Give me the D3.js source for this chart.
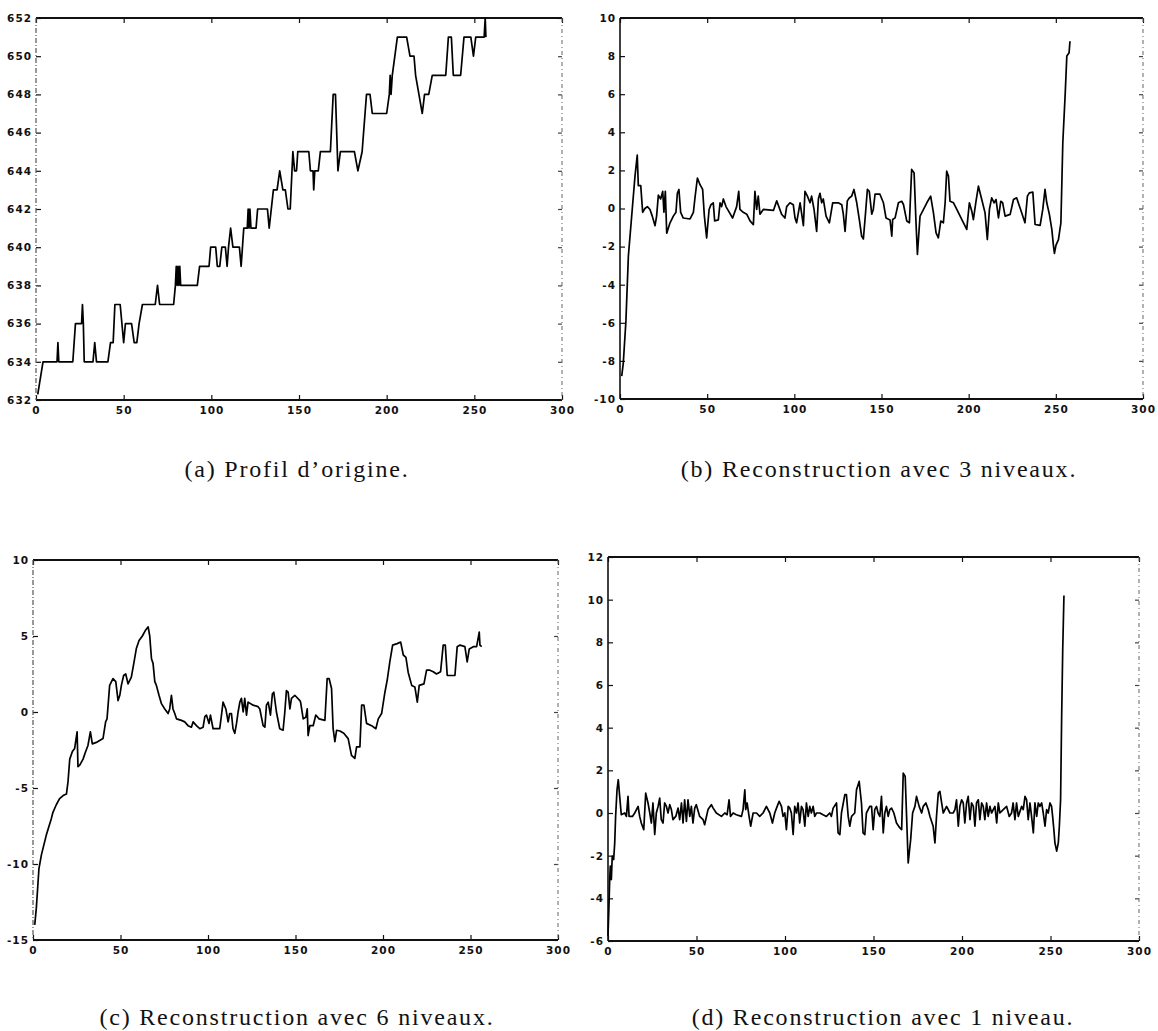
<!DOCTYPE html>
<html>
<head>
<meta charset="utf-8">
<script src="https://cdn.jsdelivr.net/npm/d3@7/dist/d3.min.js"></script>
<style>
  html, body { margin: 0; padding: 0; background: #fff; }
  svg { display: block; }
  .tick text { font-family: "DejaVu Sans", sans-serif; font-weight: bold; font-size: 10.5px; letter-spacing: 1px; fill: #111; }
  .caption { font-family: "Liberation Serif", "DejaVu Serif", serif; font-size: 24px; letter-spacing: 1.8px; fill: #111; }
</style>
</head>
<body>
<svg id="fig" width="1158" height="1031"></svg>
<script>
// Shared x ticks (sample index)
const xTicks = [0, 50, 100, 150, 200, 250, 300];

// (a) original profile
const profilX = [1, 4, 12, 12.5, 13, 21, 22.5, 26, 26.5, 27, 27.5, 32.5, 33.5, 34.5, 41, 42.5, 44, 45, 48, 50,
  51, 54.5, 56, 57.5, 58.8, 60.7, 68, 69.3, 70.5, 78.5, 79.5, 80, 80.5, 81, 81.5, 82, 82.5, 92, 93.3, 98.7,
  99.6, 102.5, 103.4, 104.8, 106, 108, 109, 109.8, 111, 112.3, 116, 117, 118.5, 120.5, 121, 121.5, 122, 122.6, 125.5, 126.4,
  132, 133, 135.4, 137.5, 139, 140.8, 142.2, 143.7, 145, 146.5, 147.5, 148.6, 149.3, 155.6, 156.5, 158, 158.4, 159, 161, 162.2,
  167.9, 169.5, 170.8, 172.2, 173.6, 181.6, 183.6, 186, 188.5, 190.5, 191.8, 200, 201.5, 202, 202.5, 203.2, 206.1, 211.4, 213.3, 215.6,
  216.5, 218.4, 220.3, 221.6, 224, 226, 233.7, 235.2, 236.9, 238, 242.2, 244.1, 248, 249.5, 250.8, 255.6, 256.2, 256.6];
const profilY = [632.3, 634, 634, 635, 634, 634, 636, 636, 637, 636, 634, 634, 635, 634, 634, 635, 635, 637, 637, 635,
  636, 636, 635, 635, 636, 637, 637, 638, 637, 637, 638, 639, 638, 639, 638, 639, 638, 638, 639, 639,
  640, 640, 639, 639, 640, 640, 639, 640, 641, 640, 640, 639, 641, 641, 642, 641, 642, 641, 641, 642,
  642, 641, 643, 643, 644, 643, 643, 642, 642, 645, 644, 644, 645, 645, 644, 644, 643, 644, 644, 645,
  645, 648, 648, 644, 645, 645, 644, 645, 648, 648, 647, 647, 648, 649, 648, 649, 651, 651, 650, 650,
  649, 648, 647, 648, 648, 649, 649, 651, 651, 649, 649, 651, 651, 650, 651, 651, 652, 651];
const profilTicks = [632, 634, 636, 638, 640, 642, 644, 646, 648, 650, 652];

// (b) reconstruction, 3 levels
const niv3X = [1, 1.9, 3.4, 4.8, 6.7, 8.6, 9.9, 10.5, 11.9, 13, 14.3, 15.7, 17.2, 18.5, 20.1, 21, 22, 23.3, 24.5, 25.2,
  26, 26.8, 28.7, 30.6, 32.1, 32.9, 33.8, 34.8, 36.3, 40.2, 42.1, 43, 44.4, 45.9, 47.4, 48.4, 49.7, 51.1, 52.2, 53.5,
  54.3, 56.4, 57.4, 58.3, 59.3, 60.8, 62.7, 64.6, 66.9, 68.1, 68.8, 70.7, 72.7, 74.6, 76.5, 77.4, 78.4, 79.3, 80.3, 82.2,
  88, 89.9, 92.7, 94.6, 95.6, 97.5, 99.4, 100.4, 101.3, 103.3, 105.2, 106.1, 107.5, 109, 109.9, 111.3, 112.8, 113.8, 114.7, 115.7,
  116.6, 118.2, 120.1, 122, 125.2, 127.2, 128.1, 129.1, 130.4, 131.5, 132.9, 134.2, 135.8, 137.3, 138.6, 139.6, 140.7, 141.9, 143, 144.4,
  145.3, 146.3, 149.1, 151.1, 152.6, 154.9, 155.9, 156.4, 157.8, 159.7, 161.6, 162.6, 164.5, 166, 167.3, 168.7, 169.8, 170.6, 172.1, 174.1,
  176, 178.2, 179.8, 181.3, 182.6, 184, 185.5, 186.5, 187.4, 188.4, 189.3, 191.3, 193.2, 196.1, 198.9, 200.4, 201.8, 202.7, 204.2, 205.6,
  207.5, 209.4, 210.7, 211.9, 213.2, 214.6, 215.7, 217.1, 218.4, 219.5, 220.9, 223.8, 225.7, 227.5, 229.5, 232.3, 233.7, 234.8, 236.8, 238.1,
  241, 242.5, 243.8, 244.8, 246.3, 247.7, 248.6, 249.2, 250.1, 251.5, 252.9, 254, 255.4, 256.3, 257.6, 258.1];
const niv3Y = [-8.8, -8.1, -5.9, -2.5, -0.4, 1.7, 2.8, 1.2, 1.2, -0.2, 0, 0.1, -0.05, -0.4, -0.9, -0.4, 0.7, 0.5, 0.9, -0.2,
  0.9, -1.3, -0.75, -0.4, -0.2, 0.8, 1.0, -0.2, -0.5, -0.55, -0.2, 0.55, 1.6, 1.25, 1.0, -0.4, -1.55, -0.05, 0.2, 0.3,
  -0.65, -0.6, 0.3, 0.1, 0.5, 0.1, -0.2, -0.5, 0.1, 0.9, -0.05, -0.2, -0.3, -0.65, -0.85, 0.9, -0.05, 0.65, -0.3, -0.05,
  -0.1, 0.4, -0.3, -0.5, 0.1, 0.3, 0.2, -0.5, -0.75, 0.3, -0.9, 0.9, 0.65, 0.3, 0.65, -0.05, -1.2, 0.5, 0.8, 0.3,
  0.5, -0.4, -0.75, 0.3, 0.3, 0.2, -0.3, -1.2, 0.4, 0.55, 0.65, 1.0, 0.3, -0.6, -1.45, -1.6, -0.4, 1.0, 0.9, -0.3,
  -0.05, 0.75, 0.75, 0.3, -0.5, -0.6, -1.45, -0.58, -0.49, 0.3, 0.38, 0.21, -0.66, -0.75, 2.05, 1.87, -0.75, -2.41, -0.4, -0.05,
  0.3, 0.65, -0.23, -1.28, -1.54, -0.66, -0.75, 0.3, 1.96, 1.7, 0.38, 0.3, -0.05, -0.58, -1.1, 0.3, -0.14, -0.58, 0.38, 1.17,
  0.47, -0.23, -1.63, -0.05, 0.56, 0.3, 0.47, -0.49, 0.38, 0.3, -0.4, -0.31, 0.47, 0.56, 0.03, -0.75, 0.65, 0.82, 0.86, -0.84,
  -0.89, -0.05, 1.0, 0.3, -0.31, -1.1, -1.92, -2.36, -1.92, -1.63, -0.75, 3.45, 6.07, 8.0, 8.17, 8.78];
const niv3Ticks = [-10, -8, -6, -4, -2, 0, 2, 4, 6, 8, 10];

// (c) reconstruction, 6 levels
const niv6X = [1, 1.9, 3.4, 4.8, 7.6, 10.5, 11.4, 13.3, 15.2, 17.2, 19.1, 20, 21, 22.5, 23.8, 25.2, 25.7, 26.7, 28.6, 30.1,
  31.4, 32.8, 33.9, 36.2, 40, 41.5, 42.3, 43.8, 45.7, 47.3, 48.6, 49.6, 50.5, 51.8, 53, 54.3, 56.2, 57.6, 59.1, 60.6,
  62.5, 64.4, 65.8, 66.7, 67.7, 68.6, 69.6, 70.5, 72, 73.4, 75.3, 77.2, 78.1, 79.1, 80, 81, 82, 84.8, 86.7, 88.6,
  90.5, 91.5, 93.4, 95.3, 97.2, 98.2, 99.1, 100.6, 101.4, 102.9, 104.8, 106.7, 107.7, 108.6, 110.2, 111.5, 112.4, 113.4, 114.3, 115.3,
  116.3, 117.2, 118.2, 119.1, 120.1, 121, 122, 122.9, 125.8, 128.6, 129.6, 131.5, 132.5, 133.4, 134.4, 135.7, 136.8, 137.6, 139.1, 141,
  142.9, 143.9, 144.8, 145.8, 146.8, 147.7, 149.6, 152.5, 152.9, 154.4, 155.9, 156.7, 157.2, 158.2, 160.1, 161.6, 163.5, 166.8, 168.1, 169.2,
  170.6, 171.5, 172.5, 173.5, 175.4, 177.6, 180.1, 182, 183.9, 184.9, 186.8, 187.8, 189.1, 190.6, 193.5, 195.9, 197.3, 199.2, 201.1, 202.4,
  203.9, 205.5, 208.1, 210.1, 211.6, 213.1, 214.4, 216.4, 218.2, 219.6, 220.7, 223.4, 224.9, 226.8, 228.7, 230.6, 232.9, 234.4, 235.6, 236.7,
  241.1, 242.4, 244, 246.8, 248.1, 249.3, 251.6, 253.5, 255, 255.4, 256.4];
const niv6Y = [-14, -12.9, -10.3, -9.4, -8.1, -7, -6.6, -6.1, -5.7, -5.5, -5.4, -4.6, -3.1, -2.6, -2.4, -1.3, -3.6, -3.5, -3.1, -2.6,
  -2.2, -1.3, -2.1, -2, -1.75, -0.65, -0.45, 1.75, 2.2, 2, 0.75, 1.1, 1.75, 2.4, 2.5, 1.85, 2.3, 3.2, 4.2, 4.7,
  5, 5.4, 5.6, 5, 3.5, 3.2, 2, 1.75, 1.1, 0.55, 0.2, -0.1, 0.2, 1.1, 0.2, -0.1, -0.45, -0.55, -0.65, -0.9,
  -1, -0.65, -0.9, -1.1, -1, -0.3, -0.2, -0.75, -0.2, -1.1, -1.1, -1.1, -0.2, 0.65, 0.2, -0.65, -0.1, -0.1, -1.1, -1.4,
  -0.75, 0, 0.65, 0.9, 0, 0.9, -0.2, 0.65, 0.45, 0.35, 0.2, -0.9, -1, 0.45, 0.65, -0.2, 1.2, 1.3, 0, -1.1,
  -1.2, 0, 1.4, 1.3, 0.2, 0.9, 1.1, 0.75, 0.65, -0.45, -0.35, 0.2, -1.55, -0.9, -0.9, -0.2, -0.45, -0.55, 2.2, 2.2,
  1.55, -1.1, -1.95, -1.2, -1.25, -1.4, -1.75, -2.85, -3.05, -2.3, -2.3, 0.45, 0.45, -0.75, -0.9, -1.1, -0.45, -0.1, 1.3, 2.1,
  3.3, 4.4, 4.5, 4.6, 3.75, 3.6, 2.6, 1.75, 1.65, 0.65, 1.75, 1.85, 2.75, 2.75, 2.65, 2.5, 2.65, 4.4, 4.4, 2.4,
  2.4, 4.3, 4.4, 4.3, 3.3, 4.15, 4.3, 4.3, 5.25, 4.4, 4.3];
const niv6Ticks = [-15, -10, -5, 0, 5, 10];

// (d) reconstruction, 1 level
const niv1X = [0, 0.6, 0.9, 1.3, 1.9, 2.4, 3.2, 3.8, 4.3, 5.1, 5.8, 6.6, 7.5, 9.4, 10.4, 11.3, 11.9, 13.8, 15.1, 17,
  17.9, 18.8, 20.2, 21.3, 22.6, 23.6, 24.5, 25.4, 26.4, 27.3, 28.3, 29.2, 30.1, 31.1, 32, 33, 33.9, 34.9, 35.8, 36.7,
  38.3, 39.6, 40.5, 41.5, 42.4, 43.3, 44.3, 45.2, 46.2, 47.1, 48, 49, 49.9, 51.8, 53.7, 54.6, 56.5, 58.4, 59.4, 61.2,
  64.1, 66, 67.3, 68.4, 69.2, 70.7, 72.5, 75.4, 76.3, 77.3, 77.8, 78.6, 79.7, 80.6, 82, 83.9, 85.7, 87.6, 89.5, 91.4,
  92.9, 94.2, 95.2, 96.7, 98, 98.9, 99.9, 100.8, 101.8, 102.7, 103.6, 104.6, 105.5, 106.5, 107.4, 108.3, 109.3, 110.2, 111.2, 112.1,
  113.1, 114, 114.9, 115.9, 116.8, 117.8, 119.7, 121.5, 123.4, 125.3, 126.2, 127.2, 129.1, 130, 131, 131.9, 133.8, 134.7, 135.7, 136.6,
  137.6, 139.4, 140.4, 141.9, 143.2, 144.1, 145.1, 146, 147.9, 148.9, 149.8, 150.7, 151.7, 152.6, 153.6, 154.5, 155.5, 156.4, 157.3, 158.3,
  159.2, 160.2, 161.5, 163, 164.9, 165.9, 166.8, 167.9, 168.7, 169.6, 171, 172.1, 173.4, 174.3, 175.8, 177.2, 178.1, 179.6, 180.9, 181.9,
  183.7, 184.7, 185.6, 186.6, 187.5, 188.5, 189.4, 191.3, 193.2, 195, 196, 196.9, 197.9, 198.8, 199.8, 200.7, 201.6, 202.6, 203.5, 204.5,
  205.4, 206.4, 207.3, 208.2, 209.2, 210.1, 211.1, 212, 212.9, 213.9, 214.8, 215.8, 216.7, 218.6, 219.6, 220.5, 221.4, 223.3, 225.2, 226.7,
  228, 228.9, 229.9, 230.8, 231.8, 233.7, 234.6, 235.6, 236.5, 237.4, 238.4, 239.3, 240.3, 241.2, 242.2, 243.1, 244, 245, 245.9, 246.9,
  247.8, 248.7, 249.7, 250.6, 251.2, 251.9, 252.5, 253.5, 254.4, 255, 255.7, 256.3, 256.9, 257.6];
const niv1Y = [-5.76, -4.21, -3.27, -2.49, -3.12, -2.02, -2.18, -1.4, -0.16, 1.09, 1.56, 0.78, -0.08, 0, -0.16, 0.78, -0.16, -0.16, 0, 0.31,
  -0.16, -0.47, -0.78, 0.93, 0.47, 0, -0.47, 0.47, -1.01, 0, 0.31, 0.7, -0.31, -0.47, 0.47, 0.31, 0, 0.39, 0.16, -0.31,
  -0.16, 0.23, -0.31, 0.47, -0.47, 0.62, -0.39, 0.62, -0.16, 0.31, -0.47, 0.23, 0.39, -0.16, -0.31, -0.55, 0.16, 0.39, 0.23, 0,
  -0.16, 0, -0.08, 0.62, -0.16, 0, -0.08, -0.16, 0.16, 1.09, 0.16, 0.47, -0.16, -0.62, 0, 0, -0.16, 0, 0.31, 0,
  -0.47, 0, 0.23, 0.55, 0.31, -0.16, 0, -0.78, 0.31, 0.23, 0, -1.01, 0.31, 0, 0.47, -0.47, 0.31, 0.16, -0.62, 0.47,
  -0.16, 0.31, 0, 0.31, -0.16, 0, 0, -0.08, -0.16, 0, -0.16, 0.23, 0.47, -0.93, -1.01, 0, 0.86, 0.86, -0.16, -0.62,
  -0.16, 0, 1.09, 1.48, 0.47, -0.93, -1.01, 0, 0.31, 0.31, -0.78, 0.16, 0.31, 0, -0.16, 0.78, -0.93, 0, 0.31, -0.16,
  0.16, 0.23, 0, -0.47, -0.7, -0.78, 1.87, 1.71, -0.16, -2.34, -1.25, 0, 0.31, 0.78, 0.31, 0, 0.31, 0.47, 0.16, -0.16,
  -0.62, -1.4, -0.16, 0.93, 1.01, 0.47, 0, 0.31, 0, 0, 0.16, 0.62, -0.62, 0.31, 0.62, 0.47, -0.47, 0.47, 0.78, -0.31,
  0.47, 0.31, -0.62, 0.47, 0.62, -0.31, 0.47, 0.31, -0.31, 0.47, -0.16, 0.31, 0, 0.31, -0.47, 0.47, 0, 0.16, 0.31, -0.16,
  0, 0.47, -0.31, 0.47, -0.16, 0.31, 0.16, 0.78, 0.62, -0.31, 0.47, -0.16, -0.93, 0.47, -0.16, 0.47, 0.31, 0.47, 0, -0.62,
  0.16, 0, 0.47, 0.31, -0.16, -0.78, -1.4, -1.79, -1.4, -0.62, 0.62, 4.52, 7.63, 10.2];
const niv1Ticks = [-6, -4, -2, 0, 2, 4, 6, 8, 10, 12];

const captions = [
  "(a) Profil d\u2019origine.",
  "(b) Reconstruction avec 3 niveaux.",
  "(c) Reconstruction avec 6 niveaux.",
  "(d) Reconstruction avec 1 niveau."
];

// Panel frames (pixel boxes) and per-panel settings
const panels = [
  { xs: profilX, ys: profilY, yTicks: profilTicks, left: 36, right: 562, top: 18, bottom: 400, dashedLeft: true,  cap: captions[0], capX: 297, capY: 477 },
  { xs: niv3X,   ys: niv3Y,   yTicks: niv3Ticks,   left: 620, right: 1143, top: 18, bottom: 399, dashedLeft: false, cap: captions[1], capX: 879, capY: 477 },
  { xs: niv6X,   ys: niv6Y,   yTicks: niv6Ticks,   left: 33, right: 558, top: 560, bottom: 940, dashedLeft: true,  cap: captions[2], capX: 297, capY: 1025 },
  { xs: niv1X,   ys: niv1Y,   yTicks: niv1Ticks,   left: 608, right: 1139, top: 557, bottom: 941, dashedLeft: false, cap: captions[3], capX: 883, capY: 1025 }
];

const svg = d3.select("#fig");
const fmt = d => String(d);

panels.forEach(p => {
  const x = d3.scaleLinear().domain([0, 300]).range([p.left, p.right]);
  const y = d3.scaleLinear().domain(d3.extent(p.yTicks)).range([p.bottom, p.top]);
  const g = svg.append("g");

  // inward ticks on all four sides
  const bottomAx = d3.axisBottom(x).tickValues(xTicks).tickFormat(fmt).tickSizeInner(-5).tickSizeOuter(0).tickPadding(7);
  const topAx = d3.axisTop(x).tickValues(xTicks).tickFormat("").tickSizeInner(-5).tickSizeOuter(0);
  const leftAx = d3.axisLeft(y).tickValues(p.yTicks).tickFormat(fmt).tickSizeInner(-5).tickSizeOuter(0).tickPadding(4);
  const rightAx = d3.axisRight(y).tickValues(p.yTicks).tickFormat("").tickSizeInner(-4).tickSizeOuter(0);

  const gb = g.append("g").attr("transform", `translate(0,${p.bottom})`).call(bottomAx);
  const gt = g.append("g").attr("transform", `translate(0,${p.top})`).call(topAx);
  const gl = g.append("g").attr("transform", `translate(${p.left},0)`).call(leftAx);
  const gr = g.append("g").attr("transform", `translate(${p.right},0)`).call(rightAx);
  [gb, gt, gl, gr].forEach(a => {
    a.select(".domain").remove();
    a.selectAll(".tick line").attr("stroke", "#111").attr("stroke-width", 1.2);
  });
  gr.selectAll(".tick line").attr("stroke", "#444");

  // frame: solid top and bottom, broken right (and left for some panels)
  g.append("line").attr("x1", p.left).attr("x2", p.right).attr("y1", p.top).attr("y2", p.top)
    .attr("stroke", "#111").attr("stroke-width", 2);
  g.append("line").attr("x1", p.left).attr("x2", p.right).attr("y1", p.bottom).attr("y2", p.bottom)
    .attr("stroke", "#111").attr("stroke-width", 2);
  g.append("line").attr("x1", p.right).attr("x2", p.right).attr("y1", p.top).attr("y2", p.bottom)
    .attr("stroke", "#666").attr("stroke-width", 1).attr("stroke-dasharray", "4,3,1,3");
  const leftLine = g.append("line").attr("x1", p.left).attr("x2", p.left).attr("y1", p.top).attr("y2", p.bottom);
  if (p.dashedLeft) {
    leftLine.attr("stroke", "#555").attr("stroke-width", 1.2).attr("stroke-dasharray", "5,2,1,2");
  } else {
    leftLine.attr("stroke", "#111").attr("stroke-width", 1.6);
  }

  // signal
  const pts = p.xs.map((v, i) => [v, p.ys[i]]);
  g.append("path")
    .datum(pts)
    .attr("fill", "none")
    .attr("stroke", "#000")
    .attr("stroke-width", 1.7)
    .attr("stroke-linejoin", "round")
    .attr("d", d3.line().x(d => x(d[0])).y(d => y(d[1])));

  // caption
  svg.append("text").attr("class", "caption")
    .attr("x", p.capX).attr("y", p.capY)
    .attr("text-anchor", "middle")
    .text(p.cap);
});
</script>
</body>
</html>
